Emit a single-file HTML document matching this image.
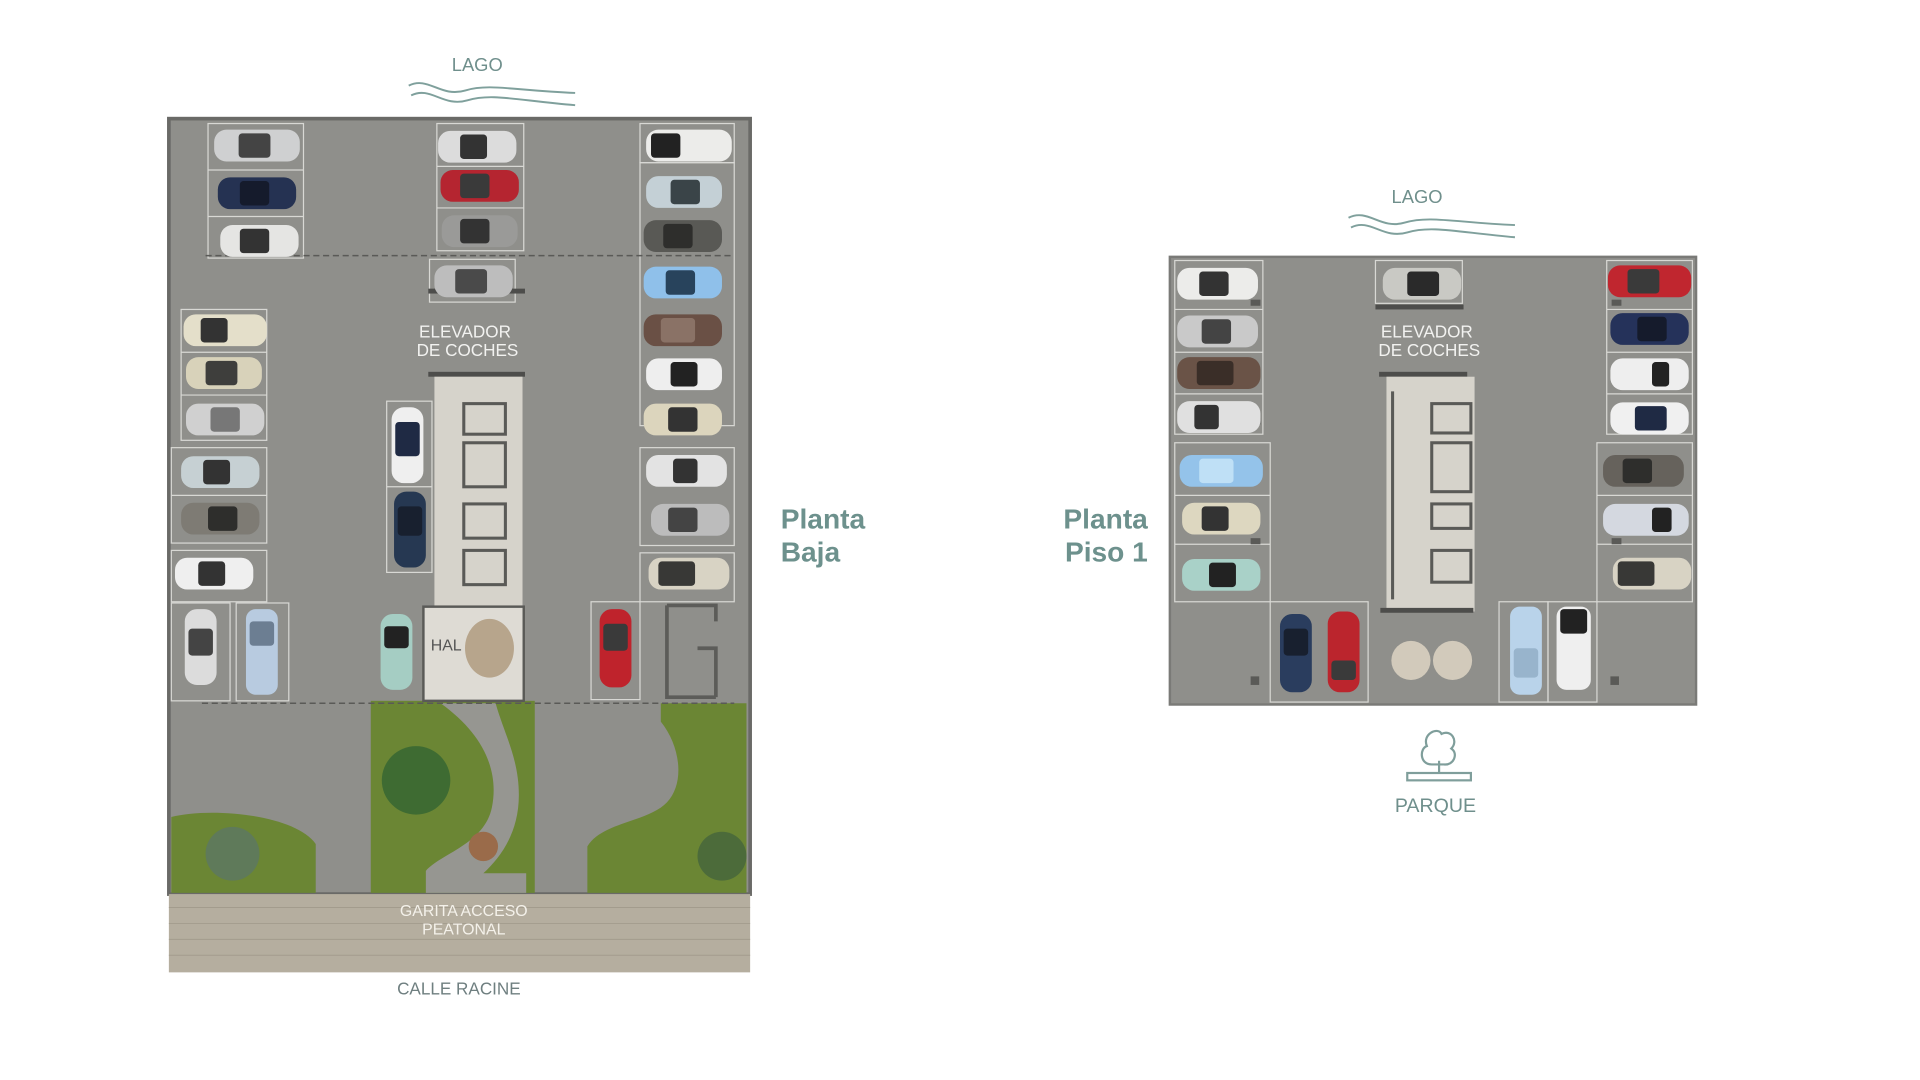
<!DOCTYPE html>
<html><head><meta charset="utf-8"><style>
html,body{margin:0;padding:0;background:#fff;width:1920px;height:1080px;overflow:hidden}
svg{display:block}
text{font-family:"Liberation Sans",sans-serif}
</style></head><body>
<svg width="1920" height="1080" viewBox="0 0 1569 883" preserveAspectRatio="none" xmlns="http://www.w3.org/2000/svg">
<text x="390" y="58" text-anchor="middle" font-size="15" fill="#6f8f8c">LAGO</text>
<path d="M334,70 C350,62 360,80 380,74 C400,68 420,74 470,76" fill="none" stroke="#7fa09c" stroke-width="1.6"/>
<path d="M336,78 C352,70 362,88 382,82 C402,76 422,82 470,86" fill="none" stroke="#7fa09c" stroke-width="1.6"/>

<rect x="138" y="97" width="475" height="634" fill="#8f8f8b" stroke="#6a6a67" stroke-width="3"/>
<rect x="303" y="573" width="134" height="157" fill="#6b8634"/>
<path d="M360,575 C395,600 408,630 402,660 C396,690 360,698 348,712 L348,730 L430,730 L430,714 L395,714 C410,700 424,680 424,650 C424,620 412,600 405,575 Z" fill="#969691"/>
<circle cx="340" cy="638" r="28" fill="#3e6b32"/>
<circle cx="395" cy="692" r="12" fill="#9a6b4a"/>
<path d="M140,668 C170,660 240,665 258,690 L258,730 L140,730 Z" fill="#6b8634"/>
<circle cx="190" cy="698" r="22" fill="#5f7a5a"/>
<path d="M540,575 L610,575 L610,730 L480,730 L480,692 C492,672 530,672 545,656 C560,640 556,610 540,590 Z" fill="#6b8634"/>
<circle cx="590" cy="700" r="20" fill="#4c6b3a"/>
<rect x="138" y="731" width="475" height="64" fill="#b5ae9f"/>
<g stroke="#a39c8d" stroke-width="0.8">
<line x1="138" y1="742" x2="613" y2="742"/><line x1="138" y1="755" x2="613" y2="755"/><line x1="138" y1="768" x2="613" y2="768"/><line x1="138" y1="781" x2="613" y2="781"/></g>
<text x="379" y="749" text-anchor="middle" font-size="13" fill="#f4f1ea">GARITA ACCESO</text>
<text x="379" y="764" text-anchor="middle" font-size="13" fill="#f4f1ea">PEATONAL</text>
<text x="375" y="813" text-anchor="middle" font-size="14" fill="#6f7f80">CALLE RACINE</text>

<g fill="none" stroke="#d8d8d4" stroke-width="1">
<rect x="170" y="101" width="78" height="110"/><line x1="170" y1="139" x2="248" y2="139"/><line x1="170" y1="177" x2="248" y2="177"/>
<rect x="357" y="101" width="71" height="104"/><line x1="357" y1="136" x2="428" y2="136"/><line x1="357" y1="170" x2="428" y2="170"/>
<rect x="351" y="212" width="70" height="35"/>
<rect x="523" y="101" width="77" height="32"/>
<rect x="523" y="133" width="77" height="215"/>
<rect x="523" y="366" width="77" height="80"/><rect x="523" y="452" width="77" height="40"/>
<rect x="148" y="253" width="70" height="107"/><line x1="148" y1="288" x2="218" y2="288"/><line x1="148" y1="323" x2="218" y2="323"/>
<rect x="140" y="366" width="78" height="78"/><line x1="140" y1="405" x2="218" y2="405"/>
<rect x="140" y="450" width="78" height="42"/>
<rect x="140" y="493" width="48" height="80"/><rect x="193" y="493" width="43" height="80"/>
<rect x="316" y="328" width="37" height="140"/><line x1="316" y1="398" x2="353" y2="398"/>
<rect x="483" y="492" width="40" height="80"/>
</g>
<g stroke="#5a5a57" stroke-width="1.2" stroke-dasharray="5,3" fill="none">
<line x1="168" y1="209" x2="600" y2="209"/><line x1="165" y1="575" x2="600" y2="575"/></g>
<path d="M545,495 L545,570 L585,570 M545,495 L585,495 L585,508 M570,530 L585,530 L585,570" fill="none" stroke="#5c5c59" stroke-width="3"/>
<rect x="350" y="236" width="79" height="4" fill="#4d4d4b"/>
<text x="380" y="276" text-anchor="middle" font-size="14" fill="#f2f2f0">ELEVADOR</text>
<text x="382" y="291" text-anchor="middle" font-size="14" fill="#f2f2f0">DE COCHES</text>
<rect x="350" y="304" width="79" height="4" fill="#4d4d4b"/>
<rect x="355" y="308" width="72" height="188" fill="#d6d3cb"/>
<g fill="none" stroke="#5a5a57" stroke-width="2.5"><rect x="379" y="330" width="34" height="25"/><rect x="379" y="362" width="34" height="36"/><rect x="379" y="412" width="34" height="28"/><rect x="379" y="450" width="34" height="28"/></g>
<rect x="346" y="496" width="82" height="77" fill="#dedbd4" stroke="#5a5a57" stroke-width="2"/>
<ellipse cx="400" cy="530" rx="20" ry="24" fill="#b7a58c"/>
<text x="352" y="532" font-size="13" fill="#555">HAL</text>

<g>
<rect x="175" y="106" width="70" height="26" rx="10" fill="#cfd0d1"/><rect x="195" y="109" width="26" height="20" rx="3" fill="#444"/>
<rect x="178" y="145" width="64" height="26" rx="10" fill="#253252"/><rect x="196" y="148" width="24" height="20" rx="3" fill="#151b2c"/>
<rect x="180" y="184" width="64" height="26" rx="10" fill="#e5e5e3"/><rect x="196" y="187" width="24" height="20" rx="3" fill="#333"/>
<rect x="358" y="107" width="64" height="26" rx="10" fill="#dcdcdc"/><rect x="376" y="110" width="22" height="20" rx="3" fill="#333"/>
<rect x="360" y="139" width="64" height="26" rx="10" fill="#b52530"/><rect x="376" y="142" width="24" height="20" rx="3" fill="#3a3a3a"/>
<rect x="361" y="176" width="62" height="26" rx="10" fill="#9a9a98"/><rect x="376" y="179" width="24" height="20" rx="3" fill="#333"/>
<rect x="355" y="217" width="64" height="26" rx="10" fill="#bdbdbd"/><rect x="372" y="220" width="26" height="20" rx="3" fill="#4a4a4a"/>
<rect x="528" y="106" width="70" height="26" rx="10" fill="#ececea"/><rect x="532" y="109" width="24" height="20" rx="3" fill="#222"/>
<rect x="528" y="144" width="62" height="26" rx="10" fill="#c4d0d6"/><rect x="548" y="147" width="24" height="20" rx="3" fill="#3a4448"/>
<rect x="526" y="180" width="64" height="26" rx="10" fill="#595955"/><rect x="542" y="183" width="24" height="20" rx="3" fill="#2e2e2c"/>
<rect x="526" y="218" width="64" height="26" rx="10" fill="#8fc0ea"/><rect x="544" y="221" width="24" height="20" rx="3" fill="#28435c"/>
<rect x="526" y="257" width="64" height="26" rx="10" fill="#6a5045"/><rect x="540" y="260" width="28" height="20" rx="3" fill="#8a7266"/>
<rect x="528" y="293" width="62" height="26" rx="10" fill="#eeeeee"/><rect x="548" y="296" width="22" height="20" rx="3" fill="#222"/>
<rect x="526" y="330" width="64" height="26" rx="10" fill="#dcd5bd"/><rect x="546" y="333" width="24" height="20" rx="3" fill="#333"/>
<rect x="528" y="372" width="66" height="26" rx="10" fill="#e3e3e3"/><rect x="550" y="375" width="20" height="20" rx="3" fill="#333"/>
<rect x="532" y="412" width="64" height="26" rx="10" fill="#bcbcbc"/><rect x="546" y="415" width="24" height="20" rx="3" fill="#444"/>
<rect x="530" y="456" width="66" height="26" rx="10" fill="#d8d3c4"/><rect x="538" y="459" width="30" height="20" rx="3" fill="#383836"/>
<rect x="150" y="257" width="68" height="26" rx="10" fill="#e4dfca"/><rect x="164" y="260" width="22" height="20" rx="3" fill="#333"/>
<rect x="152" y="292" width="62" height="26" rx="10" fill="#d8d2ba"/><rect x="168" y="295" width="26" height="20" rx="3" fill="#3e3e3c"/>
<rect x="152" y="330" width="64" height="26" rx="10" fill="#d0d0d0"/><rect x="172" y="333" width="24" height="20" rx="3" fill="#777"/>
<rect x="148" y="373" width="64" height="26" rx="10" fill="#c6d0d3"/><rect x="166" y="376" width="22" height="20" rx="3" fill="#333"/>
<rect x="148" y="411" width="64" height="26" rx="10" fill="#7e7b74"/><rect x="170" y="414" width="24" height="20" rx="3" fill="#2e2e2c"/>
<rect x="143" y="456" width="64" height="26" rx="10" fill="#efefef"/><rect x="162" y="459" width="22" height="20" rx="3" fill="#333"/>
<rect x="151" y="498" width="26" height="62" rx="10" fill="#dcdcdc"/><rect x="154" y="514" width="20" height="22" rx="3" fill="#444"/>
<rect x="201" y="498" width="26" height="70" rx="8" fill="#b8cbe0"/><rect x="204" y="508" width="20" height="20" rx="3" fill="#6c7e92"/>
<rect x="320" y="333" width="26" height="62" rx="10" fill="#efefef"/><rect x="323" y="345" width="20" height="28" rx="3" fill="#1f2a44"/>
<rect x="322" y="402" width="26" height="62" rx="10" fill="#263852"/><rect x="325" y="414" width="20" height="24" rx="3" fill="#18202f"/>
<rect x="311" y="502" width="26" height="62" rx="10" fill="#a5cdc3"/><rect x="314" y="512" width="20" height="18" rx="3" fill="#222"/>
<rect x="490" y="498" width="26" height="64" rx="10" fill="#bf232c"/><rect x="493" y="510" width="20" height="22" rx="3" fill="#3a3a3a"/>
</g>
<text x="638" y="432" font-size="23" font-weight="bold" fill="#6d918d">Planta</text>
<text x="638" y="459" font-size="23" font-weight="bold" fill="#6d918d">Baja</text>

<text x="1158" y="166" text-anchor="middle" font-size="15" fill="#6f8f8c">LAGO</text>
<path d="M1102,178 C1118,170 1128,188 1148,182 C1168,176 1190,182 1238,184" fill="none" stroke="#7fa09c" stroke-width="1.6"/>
<path d="M1104,186 C1120,178 1130,196 1150,190 C1170,184 1192,190 1238,194" fill="none" stroke="#7fa09c" stroke-width="1.6"/>
<rect x="956" y="210" width="430" height="366" fill="#8f8f8b" stroke="#7a7a77" stroke-width="2"/>
<g fill="none" stroke="#d8d8d4" stroke-width="1">
<rect x="960" y="213" width="72" height="142"/><line x1="960" y1="253" x2="1032" y2="253"/><line x1="960" y1="288" x2="1032" y2="288"/><line x1="960" y1="322" x2="1032" y2="322"/>
<rect x="960" y="362" width="78" height="130"/><line x1="960" y1="405" x2="1038" y2="405"/><line x1="960" y1="445" x2="1038" y2="445"/>
<rect x="1124" y="213" width="71" height="35"/>
<rect x="1313" y="213" width="70" height="142"/><line x1="1313" y1="253" x2="1383" y2="253"/><line x1="1313" y1="288" x2="1383" y2="288"/><line x1="1313" y1="322" x2="1383" y2="322"/>
<rect x="1305" y="362" width="78" height="130"/><line x1="1305" y1="405" x2="1383" y2="405"/><line x1="1305" y1="445" x2="1383" y2="445"/>
<rect x="1038" y="492" width="80" height="82"/><rect x="1225" y="492" width="40" height="82"/><rect x="1265" y="492" width="40" height="82"/>
</g>
<rect x="1124" y="249" width="72" height="4" fill="#4d4d4b"/>
<text x="1166" y="276" text-anchor="middle" font-size="14" fill="#f2f2f0">ELEVADOR</text>
<text x="1168" y="291" text-anchor="middle" font-size="14" fill="#f2f2f0">DE COCHES</text>
<rect x="1127" y="304" width="72" height="4" fill="#4d4d4b"/>
<rect x="1133" y="308" width="72" height="192" fill="#d6d3cb"/>
<rect x="1128" y="497" width="76" height="4" fill="#4d4d4b"/>
<g fill="none" stroke="#5a5a57" stroke-width="2.5"><rect x="1170" y="330" width="32" height="24"/><rect x="1170" y="362" width="32" height="40"/><rect x="1170" y="412" width="32" height="20"/><rect x="1170" y="450" width="32" height="26"/><line x1="1138" y1="320" x2="1138" y2="490"/></g>
<circle cx="1153" cy="540" r="16" fill="#d2cabb"/><circle cx="1187" cy="540" r="16" fill="#d2cabb"/>
<g fill="#5a5a57"><rect x="1022" y="553" width="7" height="7"/><rect x="1316" y="553" width="7" height="7"/><rect x="1022" y="245" width="8" height="5"/><rect x="1317" y="245" width="8" height="5"/><rect x="1022" y="342" width="8" height="5"/><rect x="1317" y="342" width="8" height="5"/><rect x="1022" y="440" width="8" height="5"/><rect x="1317" y="440" width="8" height="5"/></g>
<g>
<rect x="962" y="219" width="66" height="26" rx="10" fill="#ececea"/><rect x="980" y="222" width="24" height="20" rx="3" fill="#333"/>
<rect x="962" y="258" width="66" height="26" rx="10" fill="#c9c9c9"/><rect x="982" y="261" width="24" height="20" rx="3" fill="#444"/>
<rect x="962" y="292" width="68" height="26" rx="10" fill="#6a5347"/><rect x="978" y="295" width="30" height="20" rx="3" fill="#3a2e28"/>
<rect x="962" y="328" width="68" height="26" rx="10" fill="#e0e0e0"/><rect x="976" y="331" width="20" height="20" rx="3" fill="#333"/>
<rect x="964" y="372" width="68" height="26" rx="10" fill="#94c3ea"/><rect x="980" y="375" width="28" height="20" rx="3" fill="#bfe0f6"/>
<rect x="966" y="411" width="64" height="26" rx="10" fill="#ddd7c0"/><rect x="982" y="414" width="22" height="20" rx="3" fill="#333"/>
<rect x="966" y="457" width="64" height="26" rx="10" fill="#a9d1c8"/><rect x="988" y="460" width="22" height="20" rx="3" fill="#222"/>
<rect x="1130" y="219" width="64" height="26" rx="10" fill="#c9c9c4"/><rect x="1150" y="222" width="26" height="20" rx="3" fill="#2a2a2a"/>
<rect x="1314" y="217" width="68" height="26" rx="10" fill="#c0262f"/><rect x="1330" y="220" width="26" height="20" rx="3" fill="#3a3a3a"/>
<rect x="1316" y="256" width="64" height="26" rx="10" fill="#25325a"/><rect x="1338" y="259" width="24" height="20" rx="3" fill="#151b2c"/>
<rect x="1316" y="293" width="64" height="26" rx="10" fill="#eeeeee"/><rect x="1350" y="296" width="14" height="20" rx="3" fill="#222"/>
<rect x="1316" y="329" width="64" height="26" rx="10" fill="#f0f0f0"/><rect x="1336" y="332" width="26" height="20" rx="3" fill="#1f2a44"/>
<rect x="1310" y="372" width="66" height="26" rx="10" fill="#66625c"/><rect x="1326" y="375" width="24" height="20" rx="3" fill="#2e2e2c"/>
<rect x="1310" y="412" width="70" height="26" rx="10" fill="#d4d8e0"/><rect x="1350" y="415" width="16" height="20" rx="3" fill="#222"/>
<rect x="1318" y="456" width="64" height="26" rx="10" fill="#d8d3c4"/><rect x="1322" y="459" width="30" height="20" rx="3" fill="#383836"/>
<rect x="1046" y="502" width="26" height="64" rx="10" fill="#2a3d5e"/><rect x="1049" y="514" width="20" height="22" rx="3" fill="#18202f"/>
<rect x="1085" y="500" width="26" height="66" rx="10" fill="#bb252d"/><rect x="1088" y="540" width="20" height="16" rx="3" fill="#3a3a3a"/>
<rect x="1234" y="496" width="26" height="72" rx="8" fill="#b9d3ea"/><rect x="1237" y="530" width="20" height="24" rx="3" fill="#98b4cc"/>
<rect x="1272" y="496" width="28" height="68" rx="8" fill="#efefef"/><rect x="1275" y="498" width="22" height="20" rx="3" fill="#222"/>
</g>
<text x="938" y="432" text-anchor="end" font-size="23" font-weight="bold" fill="#6d918d">Planta</text>
<text x="938" y="459" text-anchor="end" font-size="23" font-weight="bold" fill="#6d918d">Piso 1</text>
<g fill="none" stroke="#7f9e9b" stroke-width="1.8">
<path d="M1170,625 C1160,625 1160,612 1166,610 C1162,600 1175,594 1178,600 C1186,596 1192,606 1186,612 C1192,616 1188,626 1180,625 Z"/>
<line x1="1176" y1="622" x2="1176" y2="632"/>
<rect x="1150" y="632" width="52" height="6"/></g>
<text x="1173" y="664" text-anchor="middle" font-size="16" fill="#6f8f8c">PARQUE</text>
</svg>
</body></html>
